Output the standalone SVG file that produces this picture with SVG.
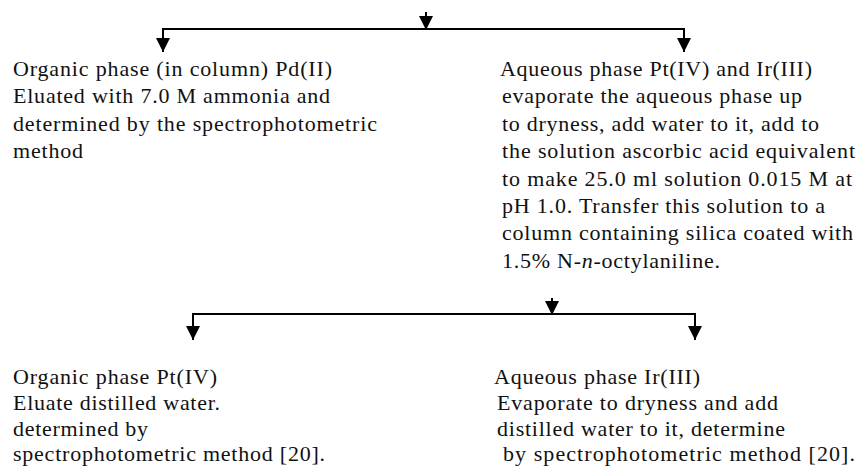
<svg xmlns="http://www.w3.org/2000/svg" width="858" height="469" viewBox="0 0 858 469">
  <style>
    .t { font-family: "Liberation Serif", "Times New Roman", serif; font-size: 22px; fill: #111; }
    .c { stroke: #000; stroke-width: 2; fill: none; }
    .a { stroke: #000; stroke-width: 2; fill: none; marker-end: url(#arrow); }
  </style>
  <defs>
    <marker id="arrow" markerUnits="userSpaceOnUse" markerWidth="14" markerHeight="14" viewBox="0 0 14 14" refX="14" refY="7" orient="auto">
      <path d="M0,0 L14,7 L0,14 Z" fill="#000"/>
    </marker>
  </defs>
  <rect width="858" height="469" fill="#fff"/>

  <g id="connectors">
    <line class="a" x1="426" y1="12" x2="426" y2="30"/>
    <line class="c" x1="163" y1="29" x2="684" y2="29"/>
    <line class="a" x1="163" y1="28" x2="163" y2="52"/>
    <line class="a" x1="684" y1="28" x2="684" y2="52"/>
    <line class="a" x1="552" y1="298" x2="552" y2="315"/>
    <line class="c" x1="193" y1="314" x2="695" y2="314"/>
    <line class="a" x1="193" y1="313" x2="193" y2="340"/>
    <line class="a" x1="695" y1="313" x2="695" y2="340"/>
  </g>

  <g id="node-organic-pd">
    <text class="t" x="13" y="76" textLength="319" lengthAdjust="spacing">Organic phase (in column) Pd(II)</text>
    <text class="t" x="13" y="103" textLength="317" lengthAdjust="spacing">Eluated with 7.0 M ammonia and</text>
    <text class="t" x="13" y="131" textLength="364" lengthAdjust="spacing">determined by the spectrophotometric</text>
    <text class="t" x="13" y="158" textLength="70" lengthAdjust="spacing">method</text>
  </g>

  <g id="node-aqueous-pt-ir">
    <text class="t" x="500" y="76" textLength="312" lengthAdjust="spacing">Aqueous phase Pt(IV) and Ir(III)</text>
    <text class="t" x="502" y="103" textLength="300" lengthAdjust="spacing">evaporate the aqueous phase up</text>
    <text class="t" x="502" y="131" textLength="317" lengthAdjust="spacing">to dryness, add water to it, add to</text>
    <text class="t" x="502" y="158" textLength="353" lengthAdjust="spacing">the solution ascorbic acid equivalent</text>
    <text class="t" x="502" y="186" textLength="350" lengthAdjust="spacing">to make 25.0 ml solution 0.015 M at</text>
    <text class="t" x="502" y="213" textLength="323" lengthAdjust="spacing">pH 1.0. Transfer this solution to a</text>
    <text class="t" x="502" y="240" textLength="351" lengthAdjust="spacing">column containing silica coated with</text>
    <text class="t" x="502" y="268" textLength="218" lengthAdjust="spacing">1.5% N-<tspan font-style="italic">n</tspan>-octylaniline.</text>
  </g>

  <g id="node-organic-pt">
    <text class="t" x="13" y="384" textLength="204" lengthAdjust="spacing">Organic phase Pt(IV)</text>
    <text class="t" x="13" y="410" textLength="207" lengthAdjust="spacing">Eluate distilled water.</text>
    <text class="t" x="13" y="436" textLength="135" lengthAdjust="spacing">determined by</text>
    <text class="t" x="13" y="461" textLength="312" lengthAdjust="spacing">spectrophotometric method [20].</text>
  </g>

  <g id="node-aqueous-ir">
    <text class="t" x="494" y="384" textLength="206" lengthAdjust="spacing">Aqueous phase Ir(III)</text>
    <text class="t" x="497" y="410" textLength="281" lengthAdjust="spacing">Evaporate to dryness and add</text>
    <text class="t" x="497" y="436" textLength="288" lengthAdjust="spacing">distilled water to it, determine</text>
    <text class="t" x="503" y="461" textLength="352" lengthAdjust="spacing">by spectrophotometric method [20].</text>
  </g>
</svg>
